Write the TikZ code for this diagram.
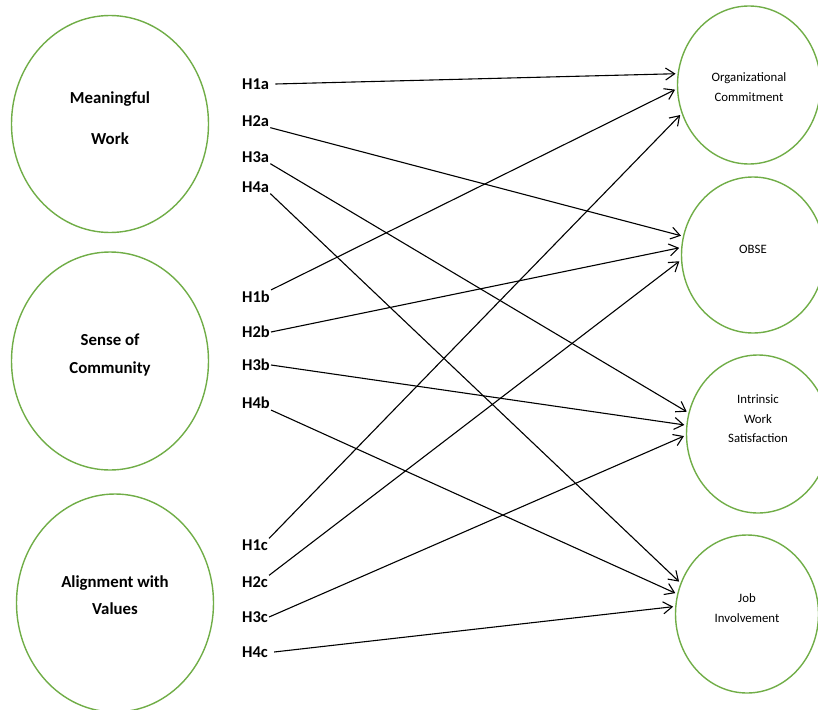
\documentclass[tikz,border=0pt]{standalone}
\usepackage{fontspec}
\setmainfont{Carlito}
\usetikzlibrary{arrows.meta,shapes.geometric}
\definecolor{ringgreen}{RGB}{112,173,71}

\begin{document}
\begin{tikzpicture}[x=1pt,y=-1pt,>={Straight Barb[length=9pt,width=12pt]},
  ring/.style={draw=ringgreen,line width=1.4pt,ellipse,inner sep=0pt},
  cons/.style={ring,minimum width=197pt,minimum height=218pt},
  outc/.style={ring,minimum width=143pt,minimum height=158pt},
  ctext/.style={align=center,inner sep=0pt,font=\fontsize{16.8}{28}\selectfont\bfseries},
  otext/.style={align=center,inner sep=0pt,font=\fontsize{12.8}{19.5}\selectfont},
  hyp/.style={anchor=west,inner sep=1pt,font=\fontsize{16.5}{20}\selectfont\bfseries},
  link/.style={->,line width=1.1pt,shorten >=2pt}]
\clip (0,0) rectangle (818,709);
% predictors
\node[cons,minimum height=217pt] (mw) at (110,124) {};
\node[cons] (sc) at (110,361) {};
\node[cons] (av) at (115,603) {};
\node[ctext] (mwtext) at ([yshift=6pt]mw) {Meaningful\\[13pt]Work};
\node[ctext] (sctext) at ([yshift=6pt]sc) {Sense of\\Community};
\node[ctext,font=\fontsize{16.8}{27}\selectfont\bfseries] (avtext) at ([yshift=8pt]av) {Alignment with\\Values};
% outcomes
\node[outc] (oc) at (749,85) {};
\node[outc,minimum height=156pt] (obse) at (753,255) {};
\node[outc] (iws) at (758,434) {};
\node[outc] (ji) at (747,614) {};
\node[otext] (octext) at ([yshift=-2pt]oc) {Organizational\\Commitment};
\node[otext] (obsetext) at ([yshift=6pt]obse) {OBSE};
\node[otext] (iwstext) at ([yshift=15pt]iws) {Intrinsic\\Work\\Satisfaction};
\node[otext] (jitext) at ([yshift=6pt]ji) {Job\\Involvement};
% hypotheses
\node[hyp] (h1a) at (241,84) {H1a};
\node[hyp] (h2a) at (241,121) {H2a};
\node[hyp] (h3a) at (241,157) {H3a};
\node[hyp] (h4a) at (241,187) {H4a};
\node[hyp] (h1b) at (241,297) {H1b};
\node[hyp] (h2b) at (241,332) {H2b};
\node[hyp] (h3b) at (241,365) {H3b};
\node[hyp] (h4b) at (241,403) {H4b};
\node[hyp] (h1c) at (241,545) {H1c};
\node[hyp] (h2c) at (241,582) {H2c};
\node[hyp] (h3c) at (241,617) {H3c};
\node[hyp] (h4c) at (241,652) {H4c};
% paths
\draw[link] ([xshift=5pt]h1a.east) -- (oc.171);
\draw[link] (h1b.north east) -- (oc.183);
\draw[link] (h1c.north east) -- (oc.203);
\draw[link] (h2a.south east) -- (obse.165);
\draw[link] (h2b.east) -- (obse.174);
\draw[link] (h2c.north east) -- (obse.184);
\draw[link] (h3a.south east) -- (iws.163);
\draw[link] (h3b.east) -- (iws.173);
\draw[link] (h3c.east) -- (iws.181);
\draw[link] (h4a.south east) -- (ji.155);
\draw[link] (h4b.south east) -- (ji.164);
\draw[link] ([xshift=5pt]h4c.east) -- (ji.174);
\end{tikzpicture}
\end{document}
